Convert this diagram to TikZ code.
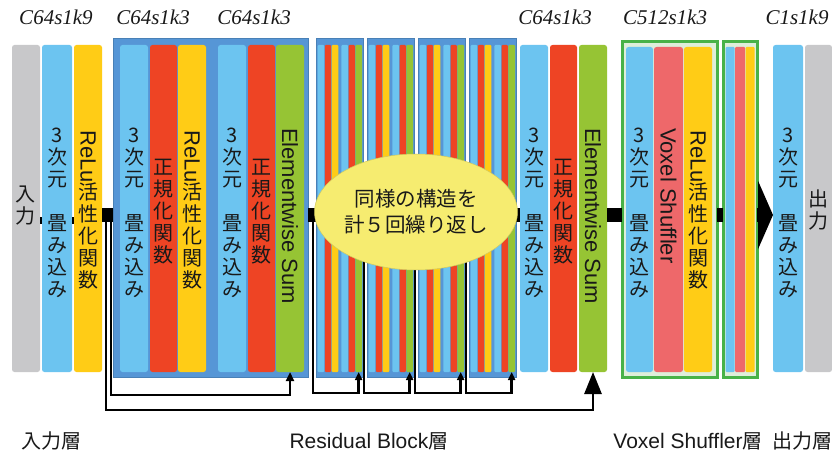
\documentclass[tikz,border=0pt]{standalone}
\usepackage{fontspec}
\usepackage{graphicx}
\usetikzlibrary{arrows.meta,calc,shapes.geometric}
\newfontfamily\cjk{Noto Sans CJK JP}
\newfontfamily\lat{Liberation Sans}
\newfontfamily\ser{Liberation Serif}
\definecolor{grayc}{RGB}{200,200,202}
\definecolor{bluec}{RGB}{108,196,240}
\definecolor{yellowc}{RGB}{255,204,22}
\definecolor{redc}{RGB}{238,68,36}
\definecolor{greenc}{RGB}{150,196,52}
\definecolor{pinkc}{RGB}{238,104,106}
\definecolor{boxblue}{RGB}{86,150,214}
\definecolor{vgreen}{RGB}{72,178,72}
\definecolor{vfill}{RGB}{222,238,218}
\definecolor{ellc}{RGB}{246,236,112}
\definecolor{txt}{RGB}{25,25,25}
\newcommand\colstack[4]{\foreach \ch [count=\k from 0] in {#4} {\node[vch] (#1-\k) at (#2,{#3+22*\k}) {\ch};}}
\begin{document}
\begin{tikzpicture}[x=1pt,y=-1pt,
  colbox/.style={rectangle, rounded corners=2.5pt, inner sep=0pt, outer sep=0pt, anchor=north west, minimum height=327pt, draw=none},
  bigbox/.style={rectangle, inner sep=0pt, outer sep=0pt, anchor=north west, minimum height=339pt, fill=boxblue, draw=boxblue!85!black, line width=0.6pt},
  vbox/.style={rectangle, inner sep=0pt, outer sep=0pt, anchor=north west, minimum height=335pt, fill=vfill, draw=vgreen, line width=3pt},
  bar/.style={line width=14pt, black},
  tickl/.style={line width=7pt, black},
  skipl/.style={line width=2.8pt, black, line cap=rect},
  vch/.style={font=\cjk\fontsize{20}{20}\selectfont, inner sep=0pt, text height=17.6pt, text depth=2.4pt, text=txt},
  vlat/.style={font=\lat\fontsize{22}{22}\selectfont, inner sep=0pt, rotate=-90, anchor=west, text=txt},
  toplab/.style={font=\ser\itshape\fontsize{21}{21}\selectfont, text=txt, inner sep=0pt},
  botlab/.style={font=\cjk\fontsize{20}{20}\selectfont, text=txt, inner sep=0pt}]
\fill[white] (0,0) rectangle (832,454);
\useasboundingbox (0,0) rectangle (832,454);
\coordinate (lv) at (0,215);
\coordinate (tk) at (0,221);
% top labels
\node[toplab] (l1) at (56,17) {C64s1k9};
\node[toplab] (l2) at (153,17) {C64s1k3};
\node[toplab] (l3) at (254,17) {C64s1k3};
\node[toplab] (l4) at (555,17) {C64s1k3};
\node[toplab] (l5) at (665,17) {C512s1k3};
\node[toplab] (l6) at (797,17) {C1s1k9};
% input layer
\node[colbox, fill=grayc, minimum width=28pt] (in) at (12,45) {};
\node[colbox, fill=bluec, minimum width=30pt] (c1) at (42,45) {};
\node[colbox, fill=yellowc, minimum width=28pt] (r1) at (74,45) {};
% residual block
\node[bigbox, minimum width=195pt] (big) at (113,38) {};
\node[colbox, fill=bluec, minimum width=28pt] (b1) at (120,45) {};
\node[colbox, fill=redc, minimum width=27pt] (n1) at (150,45) {};
\node[colbox, fill=yellowc, minimum width=28pt] (r2) at (178,45) {};
\node[colbox, fill=bluec, minimum width=28pt] (b2) at (218,45) {};
\node[colbox, fill=redc, minimum width=27pt] (n2) at (248,45) {};
\node[colbox, fill=greenc, minimum width=28pt] (g1) at (276,45) {};
% repeated small blocks
\foreach \bx [count=\bi] in {316,367,418,469} {
  \node[bigbox, minimum width=47pt] (sb\bi) at (\bx,38) {};
  \foreach \ox/\w/\cc/\nm in {1.7/6.7/bluec/a,8.9/6.3/redc/b,15.7/6.7/yellowc/c,25.3/6.7/bluec/d,32.5/6.3/redc/e,39.3/6.7/greenc/g} {
    \node[colbox, rounded corners=1pt, fill=\cc, minimum width=\w pt] (sb\nm\bi) at (\bx+\ox,45) {};
  }
}
\node[colbox, fill=bluec, minimum width=28pt] (b3) at (520,45) {};
\node[colbox, fill=redc, minimum width=27pt] (n3) at (550,45) {};
\node[colbox, fill=greenc, minimum width=28pt] (g2) at (579,45) {};
% voxel shuffler
\node[vbox, minimum width=95pt] (vox) at (622,42) {};
\node[colbox, fill=bluec, minimum width=27pt, minimum height=325pt] (b4) at (626,47) {};
\node[colbox, fill=pinkc, minimum width=29pt, minimum height=325pt] (p1) at (654,47) {};
\node[colbox, fill=yellowc, minimum width=28pt, minimum height=325pt] (r3) at (684,47) {};
\node[vbox, minimum width=34pt] (svox) at (723,42) {};
\node[colbox, rounded corners=1pt, fill=bluec, minimum width=9pt, minimum height=325pt] (sv1) at (725.5,47) {};
\node[colbox, rounded corners=1pt, fill=pinkc, minimum width=10pt, minimum height=325pt] (sv2) at (735,47) {};
\node[colbox, rounded corners=1pt, fill=yellowc, minimum width=9pt, minimum height=325pt] (sv3) at (745.5,47) {};
% output
\node[colbox, fill=bluec, minimum width=30pt] (b5) at (773,45) {};
\node[colbox, fill=grayc, minimum width=27pt] (out) at (805,45) {};
% column texts
\colstack{tin}{26}{194}{入,力}
\colstack{tc1}{57}{135}{3,次,元,{},畳,み,込,み}
\node[vlat] (tr1a) at (88,130) {ReLu};
\colstack{tr1}{88}{192}{活,性,化,関,数}
\colstack{tb1}{134}{135}{3,次,元,{},畳,み,込,み}
\colstack{tn1}{163.5}{167}{正,規,化,関,数}
\node[vlat] (tr2a) at (192,130) {ReLu};
\colstack{tr2}{192}{192}{活,性,化,関,数}
\colstack{tb2}{232}{135}{3,次,元,{},畳,み,込,み}
\colstack{tn2}{261.5}{167}{正,規,化,関,数}
\node[vlat] (tg1) at (290,128) {Elementwise Sum};
\colstack{tb3}{534}{135}{3,次,元,{},畳,み,込,み}
\colstack{tn3}{563.5}{167}{正,規,化,関,数}
\node[vlat] (tg2) at (593,128) {Elementwise Sum};
\colstack{tb4}{639.5}{135}{3,次,元,{},畳,み,込,み}
\node[vlat] (tp1) at (668.5,128) {Voxel Shuffler};
\node[vlat] (tr3a) at (698,130) {ReLu};
\colstack{tr3}{698}{192}{活,性,化,関,数}
\colstack{tb5}{788}{135}{3,次,元,{},畳,み,込,み}
\colstack{tout}{818.5}{199}{出,力}
% connectors
\draw[tickl] (in.east |- tk) -- (c1.west |- tk);
\draw[tickl] (c1.east |- tk) -- (r1.west |- tk);
\draw[bar] (r1.east |- lv) -- (big.west |- lv);
\draw[bar] (big.east |- lv) -- (sb1.west |- lv);
\draw[bar] (sb4.east |- lv) -- (b3.west |- lv);
\draw[bar] (g2.east |- lv) -- (vox.west |- lv);
\draw[bar] (vox.east |- lv) -- (svox.west |- lv);
\draw[bar, -{Triangle[width=68pt,length=15pt]}] (svox.east |- lv) -- (b5.west |- lv);
% skip connections
\coordinate (s0) at (106,222);
\coordinate (s1) at (111,222);
\draw[skipl, -{Triangle[width=17pt,length=22pt]}] (s0) -- ++(0,188) -| (g2.south);
\draw[skipl, -{Triangle[width=8pt,length=9pt]}] (s1) -- ++(0,173) -| (g1.south);
\foreach \bi in {1,2,3,4} {
  \draw[skipl, -{Triangle[width=7pt,length=8pt]}] ($(sb\bi.west |- lv)+(-3,7)$) -- ++(0,171) -| (sbg\bi.south);
}
% ellipse
\node[ellipse, fill=ellc, draw=ellc!85!black, line width=0.5pt, minimum width=186pt, minimum height=116pt, inner sep=0pt, align=center, font=\cjk\fontsize{20.5}{26}\selectfont, text=txt] (ell) at (416,212) {同様の構造を\\計５回繰り返し};
% bottom labels
\node[botlab] (bl1) at (51,441) {入力層};
\node[botlab] (bl2) at (369,441) {{\lat\fontsize{21}{21}\selectfont Residual Block}層};
\node[botlab] (bl3) at (688,441) {{\lat\fontsize{21}{21}\selectfont Voxel Shuffler}層};
\node[botlab, anchor=east] (bl4) at (833,441) {出力層};
\end{tikzpicture}
\end{document}
